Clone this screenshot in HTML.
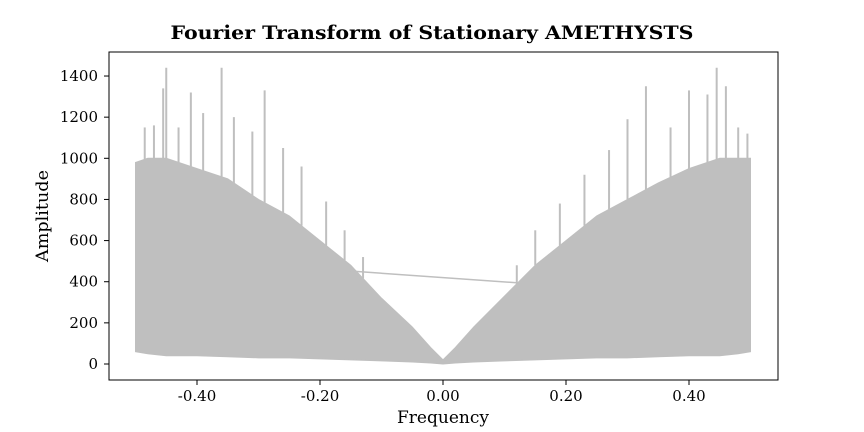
<!DOCTYPE html>
<html><head><meta charset="utf-8">
<style>
body{margin:0;background:#fff;}
svg{display:block;font-family:"DejaVu Serif","Liberation Serif",serif;}
</style></head>
<body>
<svg id="chart" width="864" height="432" viewBox="0 0 864 432">
<text x="432" y="39" text-anchor="middle" font-size="19" font-weight="bold" textLength="523" lengthAdjust="spacingAndGlyphs">Fourier Transform of Stationary AMETHYSTS</text>
<g id="plot"></g>
<rect x="109" y="52" width="669" height="328" fill="none" stroke="#000" stroke-width="1"/>
<g id="axes"></g>
<text x="443" y="423" text-anchor="middle" font-size="17" textLength="92" lengthAdjust="spacingAndGlyphs">Frequency</text>
<text transform="translate(48,216) rotate(-90)" text-anchor="middle" font-size="17" textLength="92" lengthAdjust="spacingAndGlyphs">Amplitude</text>
</svg>
<script>
const envFreq = [-0.5,-0.48,-0.45,-0.40,-0.35,-0.30,-0.25,-0.20,-0.15,-0.10,-0.05,-0.02,0,0.02,0.05,0.10,0.15,0.20,0.25,0.30,0.35,0.40,0.45,0.48,0.5];
const envUpper = [980,1000,1000,950,900,800,720,600,480,320,180,80,20,80,180,330,480,600,720,800,880,950,1000,1000,1000];
const envLower = [60,50,40,40,35,30,30,25,20,15,10,5,0,5,10,15,20,25,30,30,35,40,40,50,60];
const spikeFreq = [-0.485,-0.47,-0.455,-0.45,-0.43,-0.41,-0.39,-0.36,-0.34,-0.31,-0.29,-0.26,-0.23,-0.19,-0.16,-0.13,0.12,0.15,0.19,0.23,0.27,0.30,0.33,0.37,0.40,0.43,0.445,0.46,0.48,0.495];
const spikeAmp = [1150,1160,1340,1440,1150,1320,1220,1440,1200,1130,1330,1050,960,790,650,520,480,650,780,920,1040,1190,1350,1150,1330,1310,1440,1350,1150,1120];
const wrapFreq = [-0.151,0.125];
const wrapAmp = [452,394];
const xTicks = [-0.4,-0.2,0,0.2,0.4];
const xTickLabels = ["-0.40","-0.20","0.00","0.20","0.40"];
const yTicks = [0,200,400,600,800,1000,1200,1400];

const NS="http://www.w3.org/2000/svg";
const xs = f => 443 + f*615;
const ys = v => 364 - v*0.2057;
const plot = document.getElementById('plot');
const axes = document.getElementById('axes');
const col = "#bfbfbf";

let pts = envFreq.map((f,i)=>xs(f)+","+ys(envUpper[i]));
for(let i=envFreq.length-1;i>=0;i--) pts.push(xs(envFreq[i])+","+ys(envLower[i]));
const poly=document.createElementNS(NS,'polygon');
poly.setAttribute('points',pts.join(' '));
poly.setAttribute('fill',col);
poly.setAttribute('stroke',col);


plot.appendChild(poly);

function interp(f){
  for(let i=0;i<envFreq.length-1;i++){
    if(f>=envFreq[i]&&f<=envFreq[i+1]){
      const t=(f-envFreq[i])/(envFreq[i+1]-envFreq[i]);
      return envUpper[i]+t*(envUpper[i+1]-envUpper[i]);
    }
  }
  return 0;
}
spikeFreq.forEach((f,i)=>{
  const l=document.createElementNS(NS,'line');
  l.setAttribute('x1',xs(f));l.setAttribute('x2',xs(f));
  l.setAttribute('y1',ys(interp(f)));l.setAttribute('y2',ys(spikeAmp[i]));
  l.setAttribute('stroke',col);l.setAttribute('stroke-width','2');
  
  
  plot.appendChild(l);
});
const w=document.createElementNS(NS,'line');
w.setAttribute('x1',xs(wrapFreq[0]));w.setAttribute('y1',ys(wrapAmp[0]));
w.setAttribute('x2',xs(wrapFreq[1]));w.setAttribute('y2',ys(wrapAmp[1]));
w.setAttribute('stroke',col);w.setAttribute('stroke-width','1.5');


plot.appendChild(w);

xTicks.forEach((t,i)=>{
  const l=document.createElementNS(NS,'line');
  l.setAttribute('x1',xs(t));l.setAttribute('x2',xs(t));
  l.setAttribute('y1',380);l.setAttribute('y2',385);l.setAttribute('stroke','#000');
  
  
  axes.appendChild(l);
  const tx=document.createElementNS(NS,'text');
  tx.setAttribute('x',xs(t));tx.setAttribute('y',401);
  tx.setAttribute('text-anchor','middle');tx.setAttribute('font-size','15');
  tx.textContent=xTickLabels[i];
  
  
  axes.appendChild(tx);
});
yTicks.forEach(t=>{
  const l=document.createElementNS(NS,'line');
  l.setAttribute('x1',104);l.setAttribute('x2',109);
  l.setAttribute('y1',ys(t));l.setAttribute('y2',ys(t));l.setAttribute('stroke','#000');
  
  
  axes.appendChild(l);
  const tx=document.createElementNS(NS,'text');
  tx.setAttribute('x',98);tx.setAttribute('y',ys(t)+5);
  tx.setAttribute('text-anchor','end');tx.setAttribute('font-size','15');
  tx.textContent=String(t);
  
  
  axes.appendChild(tx);
});
</script>
</body></html>
